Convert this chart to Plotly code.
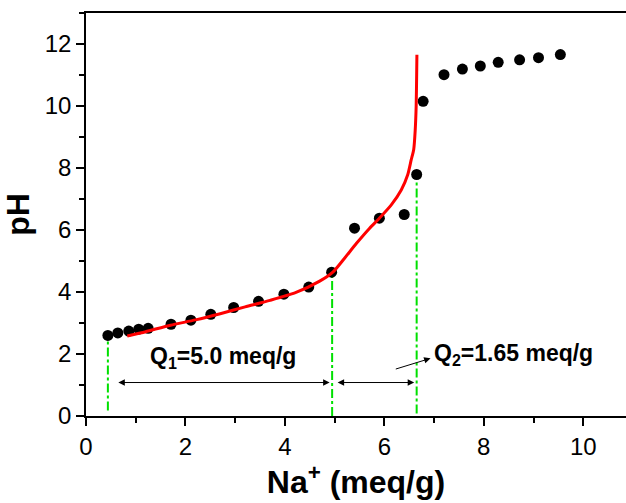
import plotly.graph_objects as go

# Experimental titration points
na_pts = [0.44, 0.64, 0.86, 1.06, 1.25, 1.71, 2.11, 2.51, 2.97, 3.47, 3.98, 4.48, 4.94,
          5.40, 5.90, 6.40, 6.65, 6.78, 7.20, 7.57, 7.93, 8.29, 8.72, 9.10, 9.54]
ph_pts = [2.60, 2.68, 2.74, 2.80, 2.83, 2.96, 3.09, 3.28, 3.50, 3.70, 3.93, 4.16, 4.64,
          6.06, 6.38, 6.50, 7.79, 10.15, 11.01, 11.19, 11.29, 11.41, 11.49, 11.56, 11.66]

# Fitted curve (red)
na_fit = [0.83, 1.2, 1.7, 2.2, 2.7, 3.2, 3.7, 4.2, 4.7, 4.97, 5.2, 5.44, 5.7, 5.9, 6.14,
          6.34, 6.47, 6.54, 6.59, 6.62, 6.64, 6.65, 6.655]
ph_fit = [2.58, 2.72, 2.93, 3.10, 3.30, 3.52, 3.73, 3.97, 4.35, 4.65, 5.09, 5.57, 6.05,
          6.38, 6.81, 7.29, 7.78, 8.26, 8.59, 9.20, 10.0, 11.0, 11.65]

# Green dash-dot markers: (x, y_top, y_bottom)
vlines_x = [0.44, 4.95, 6.65]
vlines_top = [2.45, 4.62, 7.6]
vlines_bot = [0.18, 0.0, 0.08]

x_ticks = [0, 2, 4, 6, 8, 10]
y_ticks = [0, 2, 4, 6, 8, 10, 12]

fig = go.Figure()

for xv, yt, yb in zip(vlines_x, vlines_top, vlines_bot):
    fig.add_trace(go.Scatter(x=[xv, xv], y=[yb, yt], mode="lines",
                             line=dict(color="#00e000", width=2, dash="dashdot"),
                             showlegend=False, hoverinfo="skip"))

fig.add_trace(go.Scatter(x=na_pts, y=ph_pts, mode="markers",
                         marker=dict(color="black", size=11),
                         showlegend=False))
fig.add_trace(go.Scatter(x=na_fit, y=ph_fit, mode="lines",
                         line=dict(color="#ff0000", width=3, shape="spline", smoothing=0.6),
                         showlegend=False))

# Double-headed arrows
arrows = [(0.62, 4.90, 1.08), (5.03, 6.60, 1.08)]
for x0, x1, yv in arrows:
    fig.add_annotation(x=x1, y=yv, ax=x0, ay=yv, xref="x", yref="y", axref="x", ayref="y",
                       text="", showarrow=True, arrowhead=2, startarrowhead=2,
                       arrowside="end+start", arrowsize=1.3, startarrowsize=1.3,
                       arrowwidth=1, arrowcolor="black")

# Pointer arrow to Q2 label
fig.add_annotation(x=6.93, y=1.86, ax=6.2, ay=1.5, xref="x", yref="y", axref="x", ayref="y",
                   text="", showarrow=True, arrowhead=2, arrowsize=1.3, arrowwidth=1,
                   arrowcolor="black")

fig.add_annotation(x=2.75, y=1.88, xref="x", yref="y", showarrow=False,
                   text="<b>Q<sub>1</sub>=5.0 meq/g</b>",
                   font=dict(family="Liberation Sans, Arial", size=23, color="black"))
fig.add_annotation(x=8.6, y=2.0, xref="x", yref="y", showarrow=False,
                   text="<b>Q<sub>2</sub>=1.65 meq/g</b>",
                   font=dict(family="Liberation Sans, Arial", size=23, color="black"))

axis_font = dict(family="Liberation Sans, Arial", size=24, color="black")
title_font = dict(family="Liberation Sans, Arial", size=32, color="black")

fig.update_xaxes(range=[0, 10.86], tickvals=x_ticks, ticks="outside", ticklen=8,
                 tickwidth=1.5, tickcolor="black", showline=True, linecolor="black",
                 linewidth=1.5, mirror=True, showgrid=False, zeroline=False,
                 tickfont=axis_font,
                 minor=dict(ticks="outside", ticklen=5, dtick=1, tick0=0,
                            tickcolor="black", tickwidth=1.5, showgrid=False),
                 title=dict(text="<b>Na<sup>+</sup> (meq/g)</b>", font=title_font, standoff=8))
fig.update_yaxes(range=[0, 13], tickvals=y_ticks, ticks="outside", ticklen=8,
                 tickwidth=1.5, tickcolor="black", showline=True, linecolor="black",
                 linewidth=1.5, showgrid=False, zeroline=False, tickfont=axis_font,
                 minor=dict(ticks="outside", ticklen=5, dtick=1, tick0=0,
                            tickcolor="black", tickwidth=1.5, showgrid=False),
                 title=dict(text="<b>pH</b>", font=title_font, standoff=6))

fig.update_layout(width=626, height=503, margin=dict(l=86, r=0, t=13, b=87),
                  paper_bgcolor="white", plot_bgcolor="white", showlegend=False)

fig.write_html("out.html")
